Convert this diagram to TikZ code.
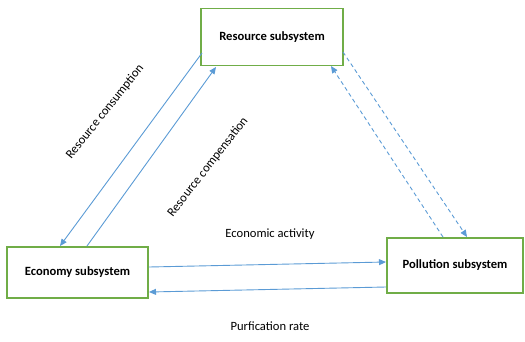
\documentclass[tikz,border=0pt]{standalone}
\usepackage{fontspec}
\setmainfont{Carlito}
\usetikzlibrary{arrows.meta}
\definecolor{boxgreen}{HTML}{70AD47}
\definecolor{linkblue}{HTML}{5B9BD5}
\tikzset{
  sysbox/.style={draw=boxgreen, line width=1.6pt, fill=white, inner sep=0pt, font=\bfseries\fontsize{12.6}{14}\selectfont},
  link/.style={draw=linkblue, line width=0.9pt, -{Triangle[length=7pt,width=6pt]}},
  dlink/.style={link, dashed, dash pattern=on 4pt off 3pt},
  lbl/.style={font=\fontsize{12.6}{14}\selectfont, inner sep=1pt}
}
\begin{document}
\begin{tikzpicture}[x=1pt,y=-1pt]
\useasboundingbox (0,0) rectangle (525,341);
\node[sysbox, minimum width=142pt, minimum height=57pt] (res) at (272,37) {Resource subsystem};
\node[sysbox, minimum width=141pt, minimum height=51pt] (eco) at (77.5,272.5) {Economy subsystem};
\node[sysbox, minimum width=136pt, minimum height=55pt] (pol) at (455,265.5) {Pollution subsystem};
% resource links
\coordinate (rc1) at (202,53);
\coordinate (rc2) at (60,246);
\draw[link] (rc1) -- (rc2);
\coordinate (rp1) at (87,246);
\coordinate (rp2) at (216,67);
\draw[link] (rp1) -- (rp2);
% dashed links
\coordinate (d1a) at (343,52);
\coordinate (d1b) at (467,237);
\draw[dlink] (d1a) -- (d1b);
\coordinate (d2a) at (443,237);
\coordinate (d2b) at (331,66);
\draw[dlink] (d2a) -- (d2b);
% horizontal links
\coordinate (ea1) at (149,267);
\coordinate (ea2) at (386,262);
\draw[link] (ea1) -- (ea2);
\coordinate (pr1) at (386,287);
\coordinate (pr2) at (149,292);
\draw[link] (pr1) -- (pr2);
% labels
\node[lbl, rotate=51.5] (lc) at (105,112) {Resource consumption};
\node[lbl, rotate=52] (lp) at (208,167) {Resource compensation};
\node[lbl] (le) at (270,234) {Economic activity};
\node[lbl] (lr) at (270,326) {Purfication rate};
\end{tikzpicture}
\end{document}
